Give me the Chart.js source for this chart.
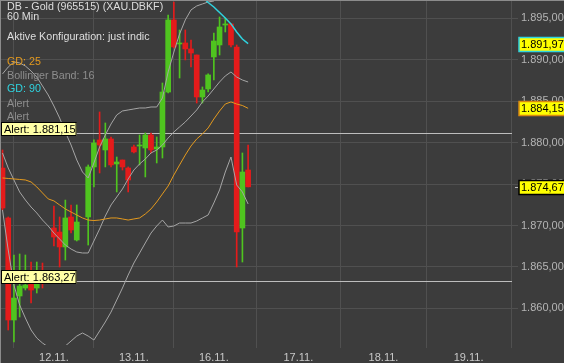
<!DOCTYPE html>
<html>
<head>
<meta charset="utf-8">
<script src="https://cdn.jsdelivr.net/npm/chart.js@4"></script>
<style>
  html, body { margin: 0; padding: 0; background: #3c3c3c; }
  canvas { display: block; }
</style>
</head>
<body>
<canvas id="chart" width="564" height="363"></canvas>
<script>
// one entry per hourly slot, null = no bar in that hour
const opens  = [1876.94, 1870.91, 1858.59, 1861.49, 1862.45, 1864.26, 1862.45, 1864.50, null, 1869.70,
                1869.21, 1867.41, 1871.03, 1868.25, null, 1871.03, 1877.07, 1880.33, 1879.12, 1880.45,
                1877.43, 1877.91, 1876.94, 1879.48, 1879.60, 1879.36, 1880.93, 1879.24, 1879.48, 1886.12,
                1894.82, 1891.92, 1892.04, 1891.32, 1890.59, 1885.52, 1886.49, 1890.35, 1891.80, 1894.21,
                1894.34, 1891.56, 1869.70, 1876.70];
const highs  = [1879.12, 1871.03, 1866.44, 1866.56, 1866.44, 1865.59, 1865.59, 1865.47, null, 1872.36,
                1871.03, 1873.07, 1872.48, 1872.48, null, 1877.31, 1880.33, 1883.71, 1882.38, 1880.69,
                1878.27, 1877.91, 1877.07, 1879.72, 1880.93, 1881.17, 1881.17, 1880.69, 1887.21, 1895.42,
                1896.99, 1893.61, 1893.61, 1892.40, 1890.59, 1886.73, 1888.30, 1893.25, 1895.18, 1895.06,
                1894.34, 1891.80, 1878.76, 1879.72];
const lows   = [1871.87, 1857.38, 1855.93, 1858.95, 1862.21, 1860.64, 1861.85, 1862.45, null, 1867.52,
                1864.99, 1865.83, 1869.10, 1868.13, null, 1867.64, 1874.66, 1876.34, 1877.07, 1877.07,
                1874.05, 1876.70, 1874.05, 1878.76, 1877.31, 1875.86, 1878.76, 1877.55, 1878.15, 1886.00,
                1891.44, 1887.81, 1889.99, 1889.14, 1884.79, 1884.79, 1886.12, 1887.57, 1890.59, 1893.37,
                1891.56, 1864.99, 1865.59, 1874.67];
const closes = [1872.11, 1858.59, 1861.24, 1862.69, 1862.81, 1862.21, 1864.50, 1863.54, null, 1868.61,
                1867.41, 1870.91, 1869.46, 1870.42, null, 1877.07, 1879.96, 1879.72, 1880.45, 1877.31,
                1877.67, 1877.07, 1875.50, 1878.88, 1879.72, 1880.93, 1879.12, 1879.48, 1886.12, 1894.82,
                1891.56, 1892.04, 1891.32, 1890.83, 1885.52, 1886.36, 1888.18, 1892.28, 1893.97, 1894.34,
                1891.80, 1869.21, 1876.46, 1874.67];

const gd25 = [1875.74, 1875.68, 1875.62, 1875.56, 1875.50, 1875.26, 1874.66, 1873.93, 1873.21, 1872.97,
              1872.48, 1872.00, 1871.63, 1871.27, 1870.91, 1870.66, 1870.60, 1870.66, 1870.79, 1870.91,
              1870.91, 1870.79, 1870.66, 1870.79, 1870.91, 1871.39, 1872.00, 1872.84, 1873.81, 1874.77,
              1876.10, 1877.31, 1878.51, 1879.60, 1880.45, 1881.05, 1881.78, 1882.86, 1883.83, 1884.67,
              1884.92, 1884.67, 1884.49, 1884.15];
const gd90 = [null, null, null, null, null, null, null, null, null, null,
              null, null, null, null, null, null, null, null, null, null,
              null, null, null, null, null, null, null, null, null, null,
              null, null, null, 1898.80, 1898.20, 1897.60, 1896.93, 1896.39, 1895.72, 1895.06,
              1894.34, 1893.37, 1892.52, 1891.97];
const bbUpper = [1888.30, 1889.14, 1889.75, 1889.63, 1889.26, 1888.66, 1887.93, 1886.85, 1885.76, 1884.43,
                 1882.98, 1881.29, 1879.72, 1877.91, 1876.46, 1875.74, 1877.55, 1879.48, 1880.93, 1882.26,
                 1883.35, 1883.83, 1883.95, 1884.07, 1884.19, 1884.19, 1884.31, 1884.31, 1885.40, 1888.54,
                 1890.95, 1893.13, 1894.82, 1896.03, 1896.51, 1896.75, 1896.99, 1897.11, 1897.60, 1898.20,
                 1898.60, 1899.50, 1900.50, 1901.50];
const bbMiddle = [1878.76, 1876.94, 1875.50, 1874.05, 1873.08, 1872.23, 1871.51, 1870.66, 1869.94, 1869.09,
                  1868.37, 1867.64, 1867.16, 1866.80, 1866.68, 1866.68, 1868.13, 1869.58, 1871.15, 1872.48,
                  1873.44, 1874.41, 1875.62, 1876.70, 1877.43, 1878.03, 1878.76, 1879.12, 1879.72, 1880.57,
                  1881.29, 1881.90, 1882.50, 1883.22, 1883.95, 1884.92, 1885.64, 1886.49, 1887.33, 1888.06,
                  1888.54, 1887.93, 1887.57, 1887.33];
const bbLower = [1871.87, 1867.04, 1862.81, 1860.40, 1858.83, 1857.38, 1856.41, 1855.81, 1855.33, 1855.21,
                 1855.33, 1855.45, 1856.05, 1856.65, 1857.02, 1856.65, 1856.17, 1857.26, 1858.35, 1859.55,
                 1861.00, 1862.45, 1864.02, 1865.47, 1866.68, 1867.89, 1869.09, 1869.94, 1870.66, 1869.82,
                 1869.94, 1870.30, 1870.30, 1870.30, 1870.54, 1870.91, 1871.27, 1872.72, 1874.29, 1876.46,
                 1878.27, 1874.89, 1874.05, 1872.60];

const alertLevels = [1881.15, 1863.27];
const dayLabels = ['12.11.', '13.11.', '16.11.', '17.11.', '18.11.', '19.11.'];
const daySlots  = [9, 23, 37, 51.8, 66.7, 81.6];
const yTicks = [1860, 1865, 1870, 1875, 1880, 1885, 1890, 1895];

const GREEN = '#4fc41f';
const RED = '#e41b1b';
const ORANGE = '#e49a1e';
const CYAN = '#2fd3df';
const FONT = 'Arial, "Liberation Sans", sans-serif';

// 1.895,00 style
function fmt(v) {
    const parts = v.toFixed(2).split('.');
    return parts[0].replace(/\B(?=(\d{3})+(?!\d))/g, '.') + ',' + parts[1];
}

const slots = opens.map((o, i) => i);
const candleIdx = slots.filter(i => opens[i] !== null);
const candleColors = candleIdx.map(i => closes[i] >= opens[i] ? GREEN : RED);

function lineData(arr) {
    return slots.map(i => ({ x: i, y: arr[i] }));
}

const overlay = {
    id: 'overlay',
    beforeDatasetsDraw(chart) {
        const { ctx, chartArea, scales } = chart;
        ctx.save();
        ctx.strokeStyle = '#bdbdbd';
        ctx.lineWidth = 1;
        alertLevels.forEach(v => {
            const py = Math.round(scales.y.getPixelForValue(v)) + 0.5;
            ctx.beginPath();
            ctx.moveTo(chartArea.left, py);
            ctx.lineTo(chartArea.right, py);
            ctx.stroke();
        });
        ctx.restore();
    },
    afterDraw(chart) {
        const { ctx, chartArea, scales } = chart;
        ctx.save();
        ctx.textBaseline = 'middle';

        // info text top left
        ctx.font = '10.7px ' + FONT;
        const info = [
            ['DB - Gold (965515) (XAU.DBKF)', '#dedede', 7],
            ['60 Min', '#dedede', 17],
            ['Aktive Konfiguration: just indic', '#dedede', 37],
            ['GD: 25', ORANGE, 62],
            ['Bollinger Band: 16', '#8e8e8e', 76],
            ['GD: 90', CYAN, 89],
            ['Alert', '#8e8e8e', 104],
            ['Alert', '#8e8e8e', 117]
        ];
        info.forEach(([t, c, y]) => {
            ctx.fillStyle = c;
            ctx.fillText(t, 7, y);
        });

        // alert labels
        ctx.font = '11px ' + FONT;
        alertLevels.forEach(v => {
            const py = Math.round(scales.y.getPixelForValue(v));
            const txt = 'Alert: ' + fmt(v);
            const w = ctx.measureText(txt).width + 3;
            ctx.fillStyle = '#ffffa6';
            ctx.fillRect(2, py - 10, w, 13);
            ctx.strokeStyle = '#000';
            ctx.lineWidth = 1;
            ctx.strokeRect(1.5, py - 10.5, w, 13);
            ctx.fillStyle = '#000';
            ctx.fillText(txt, 4, py - 3.5);
        });

        // price boxes on the right axis
        const boxes = [
            [gd90[gd90.length - 1], CYAN],
            [gd25[gd25.length - 1], '#d88a10'],
            [closes[closes.length - 1], '#000']
        ];
        boxes.forEach(([v, border]) => {
            const py = Math.round(scales.y.getPixelForValue(v));
            ctx.fillStyle = '#ffff00';
            ctx.fillRect(chartArea.right + 7, py - 6, 50, 13);
            ctx.strokeStyle = border;
            ctx.lineWidth = 1.5;
            ctx.strokeRect(chartArea.right + 7, py - 6.5, 50, 14);
            ctx.fillStyle = '#000';
            ctx.fillText(fmt(v), chartArea.right + 9, py + 0.5);
        });
        ctx.strokeStyle = '#bbb';
        ctx.lineWidth = 1;
        const pc = Math.round(scales.y.getPixelForValue(closes[closes.length - 1])) + 0.5;
        ctx.beginPath();
        ctx.moveTo(chartArea.right + 3, pc);
        ctx.lineTo(chartArea.right + 6, pc);
        ctx.stroke();

        // frame
        ctx.strokeStyle = '#8c8c8c';
        ctx.beginPath();
        ctx.moveTo(0, 0.5);
        ctx.lineTo(chart.width, 0.5);
        ctx.moveTo(0.5, 0);
        ctx.lineTo(0.5, chart.height);
        ctx.stroke();
        ctx.restore();
    }
};

Chart.defaults.font.family = FONT;
Chart.defaults.font.size = 11;

new Chart(document.getElementById('chart'), {
    type: 'bar',
    data: {
        datasets: [
            {
                type: 'line', label: 'GD 90', data: lineData(gd90),
                borderColor: CYAN, borderWidth: 1.5, pointRadius: 0, order: 0
            },
            {
                type: 'line', label: 'GD 25', data: lineData(gd25),
                borderColor: ORANGE, borderWidth: 1, pointRadius: 0, order: 0
            },
            {
                type: 'line', label: 'BB oben', data: lineData(bbUpper),
                borderColor: '#a6a6a6', borderWidth: 1, pointRadius: 0, order: 1
            },
            {
                type: 'line', label: 'BB mitte', data: lineData(bbMiddle),
                borderColor: '#a6a6a6', borderWidth: 1, pointRadius: 0, order: 1
            },
            {
                type: 'line', label: 'BB unten', data: lineData(bbLower),
                borderColor: '#a6a6a6', borderWidth: 1, pointRadius: 0, order: 1
            },
            {
                label: 'Body', data: candleIdx.map(i => ({ x: i, y: [opens[i], closes[i]] })),
                backgroundColor: candleColors, barThickness: 5, minBarLength: 1,
                grouped: false, order: 2
            },
            {
                label: 'Docht', data: candleIdx.map(i => ({ x: i, y: [lows[i], highs[i]] })),
                backgroundColor: candleColors, barThickness: 1,
                grouped: false, order: 3
            }
        ]
    },
    options: {
        responsive: false,
        animation: false,
        layout: { padding: 0 },
        plugins: {
            legend: { display: false },
            tooltip: { enabled: false }
        },
        scales: {
            x: {
                type: 'linear',
                min: -0.44,
                max: 89.2,
                offset: false,
                afterBuildTicks: s => { s.ticks = daySlots.map(v => ({ value: v })); },
                afterFit: s => { s.height = 18; s.paddingLeft = 0; s.paddingRight = 0; },
                ticks: {
                    autoSkip: false, maxRotation: 0, color: '#c8c8c8', padding: 3,
                    callback: (v, i) => dayLabels[i]
                },
                grid: { color: '#505050', tickLength: 3 },
                border: { display: false }
            },
            y: {
                position: 'right',
                min: 1855.57,
                max: 1897.23,
                afterBuildTicks: s => { s.ticks = yTicks.map(v => ({ value: v })); },
                afterFit: s => { s.width = 52; s.paddingTop = 0; s.paddingBottom = 0; },
                ticks: { color: '#b4b4b4', padding: 3, callback: v => fmt(v) },
                grid: { color: '#505050', tickLength: 6 },
                border: { display: false }
            }
        }
    },
    plugins: [overlay]
});
</script>
</body>
</html>
